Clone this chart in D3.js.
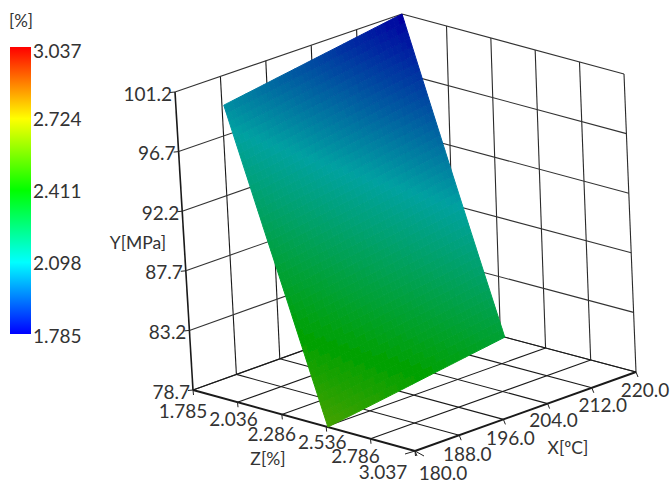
<!DOCTYPE html>
<html><head><meta charset="utf-8">
<script src="https://cdnjs.cloudflare.com/ajax/libs/d3/7.8.5/d3.min.js"></script>
<style>html,body{margin:0;background:#fff}svg{display:block}text{font-family:Lato,"Open Sans",sans-serif;fill:#333}</style>
</head><body><svg id="c" width="671" height="484"></svg>
<script>
const xTicks=[180,188,196,204,212,220];
const xLabels=["180.0","188.0","196.0","204.0","212.0","220.0"];
const yTicks=[78.7,83.2,87.7,92.2,96.7,101.2];
const yLabels=["78.7","83.2","87.7","92.2","96.7","101.2"];
const zTicks=[1.785,2.036,2.286,2.536,2.786,3.037];
const zLabels=["1.785","2.036","2.286","2.536","2.786","3.037"];
const legendValues=[1.785,2.098,2.411,2.724,3.037];
const legendColors=["#0000ff","#00ffff","#00ff00","#ffff00","#ff0000"];
// Z value of the surface: one row per yTicks entry, one column per xTicks entry
const surfaceZ=[
 [2.546,2.499,2.452,2.404,2.357,2.31],
 [2.449,2.400,2.351,2.303,2.254,2.205],
 [2.352,2.302,2.251,2.201,2.150,2.10],
 [2.254,2.202,2.150,2.099,2.047,1.995],
 [2.157,2.104,2.050,1.997,1.943,1.89],
 [2.06,2.005,1.95,1.895,1.84,1.785]];

const svg=d3.select("#c");
const sx=d3.scaleLinear().domain([180,220]).range([0,1]);
const sy=d3.scaleLinear().domain([78.7,101.2]).range([0,1]);
const sz=d3.scaleLinear().domain([1.785,3.037]).range([0,1]);
// screen anchors of the plot box: [x-end, z-end]
const F={a:[193,390],b:[410,312],c:[415,451],d:[636,372]}; // floor
const T={a:[175,92],b:[402,14],c:[397,152],d:[624,74]};   // top
function P(x,y,z){
  const u=sx(x),v=sy(y),w=sz(z);
  const bl=q=>[0,1].map(i=>(q.a[i]*(1-u)+q.b[i]*u)*(1-w)+(q.c[i]*(1-u)+q.d[i]*u)*w);
  const f=bl(F),t=bl(T);
  return [f[0]+(t[0]-f[0])*v,f[1]+(t[1]-f[1])*v];
}
const color=d3.scaleLinear().domain(legendValues).range(legendColors).interpolate(d3.interpolateRgb);
const shade=.63;
function surfColor(z){const c=d3.rgb(color(z));return d3.rgb(c.r*shade,c.g*shade,c.b*shade).formatHex();}

const g=svg.append("g");
function seg(a,b,w,col){g.append("line").attr("x1",a[0]).attr("y1",a[1]).attr("x2",b[0]).attr("y2",b[1]).attr("stroke",col||"#222").attr("stroke-width",w||1);}
const X0=xTicks[0],X1=xTicks[5],Y0=yTicks[0],Y1=yTicks[5],Z0=zTicks[0],Z1=zTicks[5];
// left wall (Z = min)
xTicks.forEach(x=>seg(P(x,Y0,Z0),P(x,Y1,Z0),x===X0?1.6:1.1,"#1a1a1a"));
yTicks.forEach(y=>seg(P(X0,y,Z0),P(X1,y,Z0),1.1,"#333"));
// right wall (X = max)
zTicks.forEach(z=>seg(P(X1,Y0,z),P(X1,Y1,z),1.1,"#2a2a2a"));
yTicks.forEach(y=>seg(P(X1,y,Z0),P(X1,y,Z1),1.1,"#333"));
// floor
xTicks.forEach(x=>seg(P(x,Y0,Z0),P(x,Y0,Z1),x===X0?2:1.1,"#1a1a1a"));
zTicks.forEach(z=>seg(P(X0,Y0,z),P(X1,Y0,z),z===Z1?2:1.1,"#1a1a1a"));
// ticks
yTicks.forEach(y=>{const p=P(X0,y,Z0);seg([p[0]-5,p[1]+.5],p,1,"#222");});
zTicks.forEach(z=>{const p=P(X0,Y0,z);seg(p,[p[0]+.5,p[1]+5],1,"#222");});
xTicks.forEach(x=>{const p=P(x,Y0,Z1);seg(p,[p[0]+2,p[1]+5],1,"#222");});
{const p=P(X0,Y0,Z1);seg([p[0]-10,p[1]+3],p,1,"#222");seg(p,[p[0]+9,p[1]+5],1,"#222");}

// surface
const defs=svg.append("defs");
defs.append("filter").attr("id","soft").attr("x","-5%").attr("y","-5%").attr("width","110%").attr("height","110%")
  .append("feGaussianBlur").attr("stdDeviation",.5);
const sub=8;
const s=svg.append("g").attr("filter","url(#soft)");
for(let j=0;j<5;j++)for(let i=0;i<5;i++)for(let b=0;b<sub;b++)for(let a=0;a<sub;a++){
  const lerpZ=(aa,bb)=>{const u=aa/sub,v=bb/sub;
    return (surfaceZ[j][i]*(1-u)+surfaceZ[j][i+1]*u)*(1-v)+(surfaceZ[j+1][i]*(1-u)+surfaceZ[j+1][i+1]*u)*v;};
  const xa=d3.scaleLinear().domain([0,sub]).range([xTicks[i],xTicks[i+1]]);
  const ya=d3.scaleLinear().domain([0,sub]).range([yTicks[j],yTicks[j+1]]);
  const corners=[[a,b],[a+1,b],[a+1,b+1],[a,b+1]].map(([aa,bb])=>P(xa(aa),ya(bb),lerpZ(aa,bb)));
  const c=surfColor(lerpZ(a+.5,b+.5));
  s.append("path").attr("d","M"+corners.join("L")+"Z").attr("fill",c).attr("stroke",c).attr("stroke-width",1);
}

// labels
const lab=(t,x,y,size,anchor)=>svg.append("text").text(t).attr("x",x).attr("y",y).attr("font-size",size)
  .attr("text-anchor",anchor||"middle").attr("dominant-baseline","central");
const fs=19;
yLabels.forEach((t,i)=>{const p=P(X0,yTicks[i],Z0);lab(t,p[0]-3,p[1]+1,fs,"end");});
const zNudge=[[-10,20],[-4,16],[-10,19],[-4,15],[-15,17],[-32,20]];
zLabels.forEach((t,i)=>{const p=P(X0,Y0,zTicks[i]);lab(t,p[0]+zNudge[i][0],p[1]+zNudge[i][1],fs);});
const xNudge=[[28,21],[8,18],[7,18],[6,16],[11,17],[9,17]];
xLabels.forEach((t,i)=>{const p=P(xTicks[i],Y0,Z1);lab(t,p[0]+xNudge[i][0],p[1]+xNudge[i][1],fs);});
lab("X[ºC]",568,447,17.5);
lab("Z[%]",268,458,17.5);
lab("Y[MPa]",138,242,17.5);
lab("[%]",21,20,17);

// legend
const ly=d3.scaleLinear().domain([1.785,3.037]).range([334,47]);
const gr=defs.append("linearGradient").attr("id","lg").attr("x1",0).attr("x2",0).attr("y1",1).attr("y2",0);
legendValues.forEach((v,i)=>gr.append("stop").attr("offset",i/4).attr("stop-color",legendColors[i]));
svg.append("rect").attr("x",10).attr("y",ly(3.037)).attr("width",21).attr("height",ly(1.785)-ly(3.037)).attr("fill","url(#lg)");
legendValues.forEach(v=>lab(v.toFixed(3),33,ly(v)+(v===3.037?3:v===1.785?1:0),fs,"start"));
</script></body></html>
